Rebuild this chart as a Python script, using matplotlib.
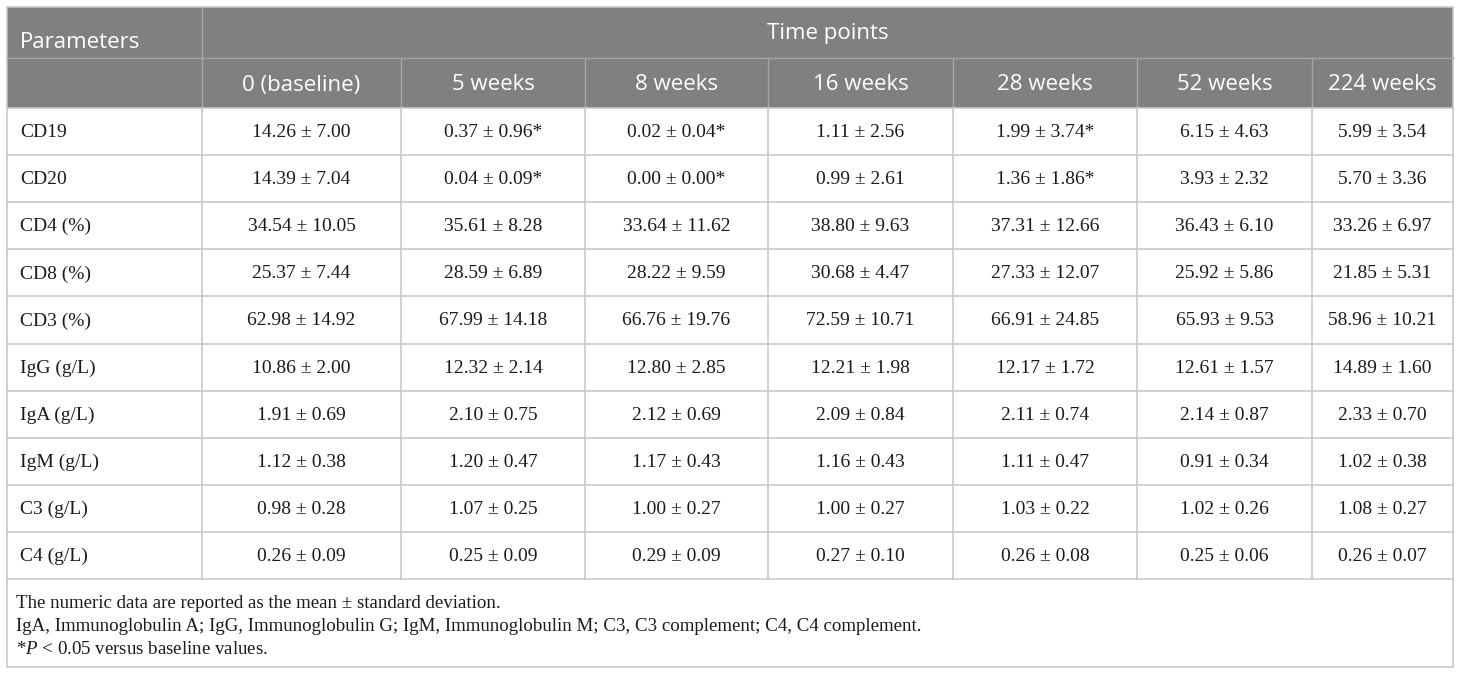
import matplotlib
matplotlib.use("Agg")
import matplotlib.pyplot as plt
from matplotlib.patches import Rectangle

plt.rcParams['mathtext.fontset'] = 'custom'
plt.rcParams['mathtext.rm'] = 'Liberation Serif'
plt.rcParams['mathtext.it'] = 'Liberation Serif:italic'

# table content
params = ["CD19", "CD20", "CD4 (%)", "CD8 (%)", "CD3 (%)", "IgG (g/L)",
          "IgA (g/L)", "IgM (g/L)", "C3 (g/L)", "C4 (g/L)"]
timepoints = ["0 (baseline)", "5 weeks", "8 weeks", "16 weeks", "28 weeks",
              "52 weeks", "224 weeks"]
means = [
    [14.26, 0.37, 0.02, 1.11, 1.99, 6.15, 5.99],
    [14.39, 0.04, 0.00, 0.99, 1.36, 3.93, 5.70],
    [34.54, 35.61, 33.64, 38.80, 37.31, 36.43, 33.26],
    [25.37, 28.59, 28.22, 30.68, 27.33, 25.92, 21.85],
    [62.98, 67.99, 66.76, 72.59, 66.91, 65.93, 58.96],
    [10.86, 12.32, 12.80, 12.21, 12.17, 12.61, 14.89],
    [1.91, 2.10, 2.12, 2.09, 2.11, 2.14, 2.33],
    [1.12, 1.20, 1.17, 1.16, 1.11, 0.91, 1.02],
    [0.98, 1.07, 1.00, 1.00, 1.03, 1.02, 1.08],
    [0.26, 0.25, 0.29, 0.27, 0.26, 0.25, 0.26],
]
sds = [
    [7.00, 0.96, 0.04, 2.56, 3.74, 4.63, 3.54],
    [7.04, 0.09, 0.00, 2.61, 1.86, 2.32, 3.36],
    [10.05, 8.28, 11.62, 9.63, 12.66, 6.10, 6.97],
    [7.44, 6.89, 9.59, 4.47, 12.07, 5.86, 5.31],
    [14.92, 14.18, 19.76, 10.71, 24.85, 9.53, 10.21],
    [2.00, 2.14, 2.85, 1.98, 1.72, 1.57, 1.60],
    [0.69, 0.75, 0.69, 0.84, 0.74, 0.87, 0.70],
    [0.38, 0.47, 0.43, 0.43, 0.47, 0.34, 0.38],
    [0.28, 0.25, 0.27, 0.27, 0.22, 0.26, 0.27],
    [0.09, 0.09, 0.09, 0.10, 0.08, 0.06, 0.07],
]
# (row, col) cells marked P < 0.05 vs baseline
signif = [(0, 1), (0, 2), (0, 4), (1, 1), (1, 2), (1, 4)]
footnotes = [
    "The numeric data are reported as the mean ± standard deviation.",
    "IgA, Immunoglobulin A; IgG, Immunoglobulin G; IgM, Immunoglobulin M; "
    "C3, C3 complement; C4, C4 complement.",
    r"*$\it{P}$ < 0.05 versus baseline values.",
]

# layout in pixels
col_x = [7, 202, 401, 585, 768, 953, 1137, 1312, 1453]
top, h1, h2 = 7, 58, 108
row_h = 47.1
n_rows = len(params)
data_bottom = h2 + n_rows * row_h
bottom = 667
hdr_color = "#808080"
grid_color = "#c8c8c8"
sans = "Open Sans"
serif = "Liberation Serif"

fig = plt.figure(figsize=(14.6, 6.75), dpi=100)
ax = fig.add_axes([0, 0, 1, 1])
ax.set_xlim(0, 1460)
ax.set_ylim(675, 0)
ax.axis("off")

# header background
ax.add_patch(Rectangle((col_x[0], top), col_x[-1] - col_x[0], h2 - top,
                       facecolor=hdr_color, edgecolor="none"))
# header lines
ax.plot([col_x[0], col_x[-1]], [h1, h1], color="#a6a6a6", lw=1)
ax.plot([col_x[1], col_x[1]], [top, h2], color="#a6a6a6", lw=1)
for x in col_x[2:-1]:
    ax.plot([x, x], [h1, h2], color="#a6a6a6", lw=1)

# body grid
for i in range(n_rows + 1):
    y = h2 + i * row_h
    ax.plot([col_x[0], col_x[-1]], [y, y], color=grid_color, lw=1.2)
for x in col_x[1:-1]:
    ax.plot([x, x], [h2, data_bottom], color=grid_color, lw=1.2)
# outer border
ax.add_patch(Rectangle((col_x[0], top), col_x[-1] - col_x[0], bottom - top,
                       facecolor="none", edgecolor=grid_color, lw=1.2))

# header text
ax.text(20, 43, "Parameters", color="white", fontsize=16, family=sans,
        ha="left", va="center")
ax.text((col_x[1] + col_x[-1]) / 2, 33, "Time points", color="white",
        fontsize=16, family=sans, ha="center", va="center")
for j, tp in enumerate(timepoints):
    ax.text((col_x[j + 1] + col_x[j + 2]) / 2, 85, tp, color="white",
            fontsize=16, family=sans, ha="center", va="center")

# body text
for i, p in enumerate(params):
    yc = h2 + (i + 0.5) * row_h + 1
    ax.text(20, yc, p, fontsize=14, family=serif, ha="left", va="center",
            color="#1a1a1a")
    for j in range(len(timepoints)):
        s = f"{means[i][j]:.2f} ± {sds[i][j]:.2f}"
        if (i, j) in signif:
            s += "*"
        ax.text((col_x[j + 1] + col_x[j + 2]) / 2, yc, s, fontsize=14,
                family=serif, ha="center", va="center", color="#1a1a1a")

# footnotes
for k, note in enumerate(footnotes):
    ax.text(16, 603 + k * 23.5, note, fontsize=13.6, family=serif,
            ha="left", va="center", color="#1a1a1a")

fig.savefig("out.png", dpi=100)
